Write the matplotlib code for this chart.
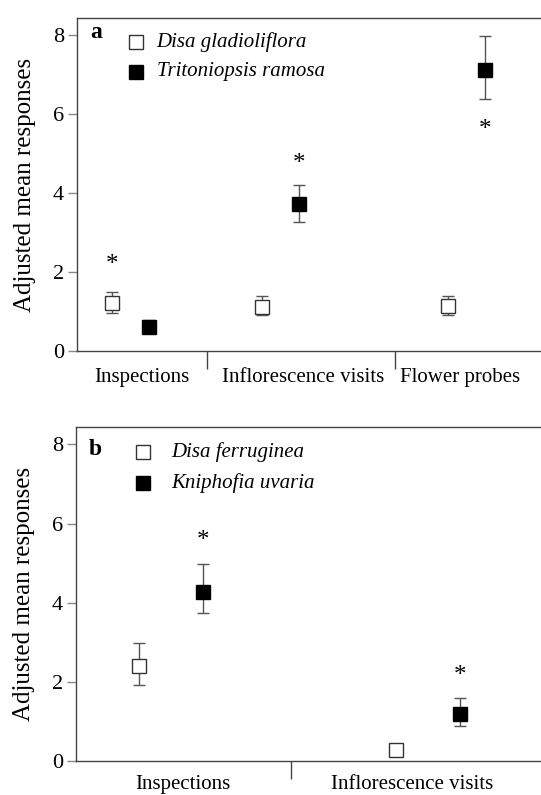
import numpy as np
import matplotlib
matplotlib.use('Agg')
import matplotlib.pyplot as plt

plt.rcParams.update({'font.family': 'Liberation Serif', 'font.size': 14})

# panel a
cats_a = ['Inspections', 'Inflorescence visits', 'Flower probes']
disa_a = [1.22, 1.11, 1.13]
disa_a_lo = [0.97, 0.90, 0.90]
disa_a_hi = [1.50, 1.40, 1.40]
trit_a = [0.60, 3.72, 7.13]
trit_a_lo = [0.45, 3.28, 6.39]
trit_a_hi = [0.79, 4.20, 7.99]
star_a = [2.23, 4.80, 5.66]   # asterisk heights
star_a_on = ['disa', 'trit', 'trit']

# panel b
cats_b = ['Inspections', 'Inflorescence visits']
disa_b = [2.39, 0.27]
disa_b_lo = [1.92, 0.27]
disa_b_hi = [2.97, 0.27]
knip_b = [4.27, 1.20]
knip_b_lo = [3.75, 0.88]
knip_b_hi = [4.98, 1.59]
star_b = [5.61, 2.21]
star_b_on = ['knip', 'knip']

# layout (x in axis units)
xa_open = [0.35, 1.85, 3.71]
xa_fill = [0.72, 2.22, 4.08]
xa_sep = [1.30, 3.18]
xa_lab = [0.65, 2.26, 3.83]
xb_open = [0.63, 3.19]
xb_fill = [1.27, 3.83]
xb_sep = [2.15]
xb_lab = [1.07, 3.35]

W, H = 541, 795
fig = plt.figure(figsize=(W / 100, H / 100), dpi=100)
ax_a = fig.add_axes([77 / W, 1 - 351 / H, 464 / W, (351 - 18) / H])
ax_b = fig.add_axes([76 / W, 1 - 761 / H, 465 / W, (761 - 427) / H])

spine_c = '#444444'
err_c = '#555555'


def err(vals, lo, hi):
    v = np.array(vals); return [v - np.array(lo), np.array(hi) - v]


def draw(ax, xo, xf, o_vals, o_lo, o_hi, f_vals, f_lo, f_hi, stars, star_on,
         seps, labpos, cats, names, letter, letter_y, leg_x, txt_x, leg_y, xpad):
    ax.errorbar(xo, o_vals, yerr=err(o_vals, o_lo, o_hi), fmt='s', ms=9.5,
                mfc='white', mec='#333333', mew=1.0, ecolor=err_c, elinewidth=1.0,
                capsize=4, capthick=1.0, zorder=3)
    ax.errorbar(xf, f_vals, yerr=err(f_vals, f_lo, f_hi), fmt='s', ms=10.5,
                mfc='black', mec='black', ecolor=err_c, elinewidth=1.0,
                capsize=4, capthick=1.0, zorder=3)
    for i, s in enumerate(stars):
        xx = xo[i] if star_on[i] == 'disa' else xf[i]
        ax.annotate('*', (xx, s), xytext=(0, -1.5), textcoords='offset points',
                    ha='center', va='center', fontsize=18)
    ax.set_xlim(0, 4.64)
    ax.set_ylim(0, 8.44)
    ax.set_yticks([0, 2, 4, 6, 8])
    ax.set_xticks(labpos)
    ax.set_xticklabels(cats)
    ax.set_xticks(seps, minor=True)
    ax.tick_params(axis='x', which='major', length=0, pad=xpad, labelsize=15)
    ax.tick_params(axis='x', which='minor', length=13, width=1.0, color=spine_c)
    ax.tick_params(axis='y', length=6.5, width=1.0, color='#888888', labelsize=16, pad=3)
    for side in ['left', 'bottom', 'top']:
        ax.spines[side].set_color(spine_c)
        ax.spines[side].set_linewidth(1.0)
    ax.spines['right'].set_visible(False)
    ax.set_ylabel('Adjusted mean responses', fontsize=18)
    ax.yaxis.set_label_coords(-(77 - 36) / 464, 0.5)
    ax.text(0.028, letter_y, letter, transform=ax.transAxes, fontsize=17,
            fontweight='bold', va='baseline', ha='left')
    # legend
    for k, (mfc, ms) in enumerate([('white', 9.5), ('black', 10.5)]):
        ax.plot([leg_x], [leg_y[k]], 's', ms=ms, mfc=mfc,
                mec='#333333' if mfc == 'white' else 'black', mew=1.0,
                transform=ax.transAxes, clip_on=False)
        ax.text(txt_x, leg_y[k], names[k], transform=ax.transAxes, fontsize=15,
                style='italic', va='center', ha='left')


draw(ax_a, xa_open, xa_fill, disa_a, disa_a_lo, disa_a_hi, trit_a, trit_a_lo,
     trit_a_hi, star_a, star_a_on, xa_sep, xa_lab, cats_a,
     ['Disa gladioliflora', 'Tritoniopsis ramosa'], 'a', 0.94,
     (135.7 - 77) / 464, (156.7 - 77) / 464, [0.929, 0.839], 12)
draw(ax_b, xb_open, xb_fill, disa_b, disa_b_lo, disa_b_hi, knip_b, knip_b_lo,
     knip_b_hi, star_b, star_b_on, xb_sep, xb_lab, cats_b,
     ['Disa ferruginea', 'Kniphofia uvaria'], 'b', 0.916,
     (142.7 - 76) / 465, (171 - 76) / 465, [0.926, 0.831], 10)

fig.savefig('out.png', dpi=100)
